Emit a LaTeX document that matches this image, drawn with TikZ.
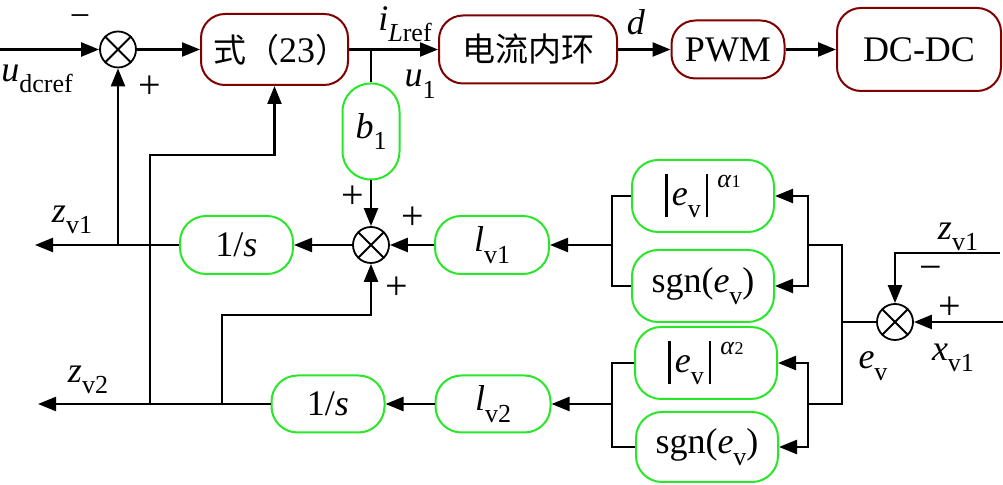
\documentclass[tikz,border=0pt]{standalone}
\usepackage{fontspec}
\setmainfont{Liberation Serif}
\newfontfamily\cjk{Noto Sans CJK SC}
\usetikzlibrary{arrows.meta}
\definecolor{maroonc}{RGB}{128,0,0}
\definecolor{limec}{RGB}{40,230,40}
\newcommand\sbs[1]{\raisebox{-0.32em}{\fontsize{13}{13}\selectfont #1}}
\newcommand\sps[1]{\raisebox{0.5em}{\fontsize{13}{13}\selectfont #1}}
\newcommand\absbar{\rule[-0.32em]{0.06em}{1.2em}}
\newcommand\cjks{\cjk\fontsize{16.5}{19}\selectfont}
\begin{document}
\begin{tikzpicture}[x=0.5pt,y=-0.5pt,
  font=\fontsize{18}{21}\selectfont,
  mbox/.style={draw=maroonc, line width=1pt, rounded corners=12pt, inner sep=0pt},
  gbox/.style={draw=limec, line width=1pt, rounded corners=13pt, inner sep=0pt},
  sumc/.style={circle, draw, line width=0.9pt, minimum size=18pt, inner sep=0pt},
  conn/.style={line width=1.2pt, -{Triangle[length=9pt,width=7pt]}},
  wire/.style={line width=1.2pt},
  lab/.style={inner sep=0pt},
  sgnlab/.style={inner sep=0pt, font=\fontsize{20}{20}\selectfont}]
\useasboundingbox (0,0) rectangle (1003,485);

% ---- top row ----
\node[sumc] (s1) at (118,49.5) {};
\draw[line width=0.9pt] (s1.45)--(s1.225) (s1.135)--(s1.315);
\node[mbox, minimum width=70.5pt, minimum height=35.5pt] (f23) at (274.5,49.5) {\hspace{6pt}{\cjks 式（}23{\cjks ）}\hspace{-18pt}};
\node[mbox, minimum width=89pt, minimum height=34pt] (cil) at (528,49.5) {{\cjks 电流内环}};
\node[mbox, minimum width=56.5pt, minimum height=29pt] (pwm) at (728,49.5) {PWM};
\node[mbox, minimum width=82pt, minimum height=41.5pt] (dcdc) at (919,49.5) {DC-DC};
\node[gbox, rounded corners=14pt, minimum width=28.5pt, minimum height=48pt] (b1) at (371,131.5) {\textit{b}\sbs{1}};

% ---- middle row ----
\node[sumc] (s2) at (371,245) {};
\draw[line width=0.9pt] (s2.45)--(s2.225) (s2.135)--(s2.315);
\node[gbox, minimum width=56.5pt, minimum height=29pt] (os1) at (236.5,245) {1/\textit{s}};
\node[gbox, minimum width=57pt, minimum height=29pt] (lv1) at (492,245) {\textit{l}\sbs{v1}};
\node[gbox, minimum width=71pt, minimum height=36pt] (a1) at (703,196) {\absbar\hspace{0.12em}\textit{e}\sbs{v}\hspace{0.15em}\absbar\hspace{0.25em}\sps{\textit{α}{\fontsize{9}{9}\selectfont 1}}};
\node[gbox, minimum width=71pt, minimum height=36pt] (g1) at (703,286) {sgn(\textit{e}\sbs{v})};
\node[sumc] (s3) at (895,322) {};
\draw[line width=0.9pt] (s3.45)--(s3.225) (s3.135)--(s3.315);

% ---- bottom row ----
\node[gbox, minimum width=56.5pt, minimum height=28.5pt] (os2) at (328,404) {1/\textit{s}};
\node[gbox, minimum width=57.5pt, minimum height=28.5pt] (lv2) at (493,404) {\textit{l}\sbs{v2}};
\node[gbox, minimum width=71pt, minimum height=36pt] (a2) at (706,363) {\absbar\hspace{0.12em}\textit{e}\sbs{v}\hspace{0.15em}\absbar\hspace{0.25em}\sps{\textit{α}{\fontsize{9}{9}\selectfont 2}}};
\node[gbox, minimum width=71pt, minimum height=35pt] (g2) at (707,447) {sgn(\textit{e}\sbs{v})};

% ---- coordinates ----
\coordinate (in1) at (0,49.5);
\coordinate (j1) at (371,49.5);
\coordinate (zv1out) at (35,245);
\coordinate (j2) at (118,245);
\coordinate (j3) at (150,404);
\coordinate (c3) at (150,155);
\coordinate (j4) at (222,404);
\coordinate (c4) at (222,315);
\coordinate (zv2out) at (38,404);
\coordinate (m1) at (612,245);
\coordinate (m2) at (612,404);
\coordinate (r1) at (808,245);
\coordinate (r2) at (808,404);
\coordinate (v1) at (842,245);
\coordinate (v2) at (842,404);
\coordinate (v3) at (842,322);
\coordinate (xin) at (1003,322);
\coordinate (zin) at (1000,253);

% ---- connectors top ----
\draw[conn] (in1) -- (s1.west);
\draw[conn] (s1.east) -- (f23.west);
\draw[conn] (f23.east) -- (cil.west);
\draw[wire] (j1) -- (b1.north);
\draw[conn] (cil.east) -- (pwm.west);
\draw[conn] (pwm.east) -- (dcdc.west);
\draw[conn] (b1.south) -- (s2.north);

% ---- connectors middle ----
\draw[conn] (lv1.west) -- (s2.east);
\draw[conn] (s2.west) -- (os1.east);
\draw[conn] (os1.west) -- (zv1out);
\draw[conn] (j2) -- (s1.south);
\draw[conn] (j3) -- (c3) -| (f23.south);
\draw[conn] (j4) -- (c4) -| (s2.south);
\draw[wire] (a1.west) -| (m1) |- (g1.west);
\draw[conn] (m1) -- (lv1.east);
\draw[conn] (r1) |- (a1.east);
\draw[conn] (r1) |- (g1.east);
\draw[wire] (r1) -- (v1) -- (v2) -- (r2);
\draw[wire] (s3.west) -- (v3);
\draw[conn] (xin) -- (s3.east);
\draw[conn] (zin) -| (s3.north);

% ---- connectors bottom ----
\draw[conn] (lv2.west) -- (os2.east);
\draw[conn] (os2.west) -- (zv2out);
\draw[wire] (a2.west) -| (m2) |- (g2.west);
\draw[conn] (m2) -- (lv2.east);
\draw[conn] (r2) |- (a2.east);
\draw[conn] (r2) |- (g2.east);

% ---- labels ----
\node[lab] (tminus1) at (80,21) {−};
\node[lab, anchor=west] (tud) at (1,79) {\textit{u}\sbs{dcref}};
\node[sgnlab] (tplus1) at (150,87) {+};
\node[lab] (til) at (405,24) {\textit{i}\sbs{\textit{L}ref}};
\node[lab] (tu1) at (420,84) {\textit{u}\sbs{1}};
\node[lab] (td) at (636,22) {\textit{d}};
\node[sgnlab] (tp2) at (353,197) {+};
\node[sgnlab] (tp3) at (413,218) {+};
\node[sgnlab] (tp4) at (397,288) {+};
\node[lab] (tzv1) at (72,220) {\textit{z}\sbs{v1}};
\node[lab] (tzv2) at (88,380) {\textit{z}\sbs{v2}};
\node[lab] (tzv1r) at (958,237) {\textit{z}\sbs{v1}};
\node[sgnlab] (tm3) at (931,273) {−};
\node[sgnlab] (tp5) at (950,308) {+};
\node[lab] (tev) at (873,366) {\textit{e}\sbs{v}};
\node[lab] (txv) at (953,358) {\textit{x}\sbs{v1}};
\end{tikzpicture}
\end{document}
